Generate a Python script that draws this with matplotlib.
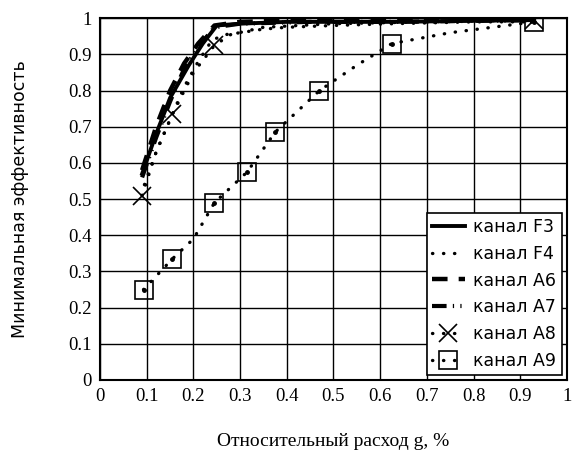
import numpy as np
import matplotlib.pyplot as plt

# channel curves (relative flow g, min efficiency)
f3_x = [0.09, 0.12, 0.15, 0.19, 0.22, 0.25, 0.30, 0.40, 0.50, 0.63, 0.93]
f3_y = [0.57, 0.68, 0.78, 0.87, 0.93, 0.98, 0.985, 0.99, 0.99, 0.99, 0.995]

f4_x = [0.095, 0.12, 0.15, 0.18, 0.21, 0.24, 0.27, 0.30, 0.35, 0.40, 0.50, 0.63, 0.80, 0.93]
f4_y = [0.54, 0.63, 0.72, 0.81, 0.88, 0.94, 0.955, 0.96, 0.97, 0.975, 0.98, 0.985, 0.99, 0.99]

a6_x = [0.09, 0.12, 0.15, 0.18, 0.21, 0.245, 0.30, 0.45, 0.63, 0.93]
a6_y = [0.58, 0.70, 0.80, 0.875, 0.93, 0.98, 0.99, 0.995, 0.995, 0.995]

a7_x = [0.09, 0.12, 0.15, 0.18, 0.21, 0.245, 0.30, 0.45, 0.63, 0.93]
a7_y = [0.56, 0.67, 0.77, 0.86, 0.92, 0.975, 0.985, 0.99, 0.99, 0.995]

a8_x = [0.09, 0.12, 0.155, 0.20, 0.245, 0.28, 0.35, 0.50, 0.70, 0.93]
a8_y = [0.51, 0.63, 0.735, 0.85, 0.925, 0.955, 0.975, 0.985, 0.99, 0.995]
a8_marks = [0, 2, 4, 9]

a9_x = [0.093, 0.155, 0.20, 0.245, 0.315, 0.375, 0.47, 0.55, 0.625, 0.75, 0.93]
a9_y = [0.25, 0.335, 0.39, 0.49, 0.575, 0.685, 0.80, 0.87, 0.93, 0.96, 0.99]
a9_marks = [0, 1, 3, 4, 5, 6, 8, 10]

ticks = np.round(np.arange(0, 1.01, 0.1), 1)
tick_labels = ['0' if t == 0 else ('1' if t == 1 else f'{t:.1f}') for t in ticks]

fig = plt.figure(figsize=(5.72, 4.62), dpi=100)
ax = fig.add_axes([0.175, 0.1775, 0.816, 0.783])

dots = (0, (0.1, 3.2))
ax.plot(f3_x, f3_y, 'k-', lw=2.8, label='канал F3')
ax.plot(f4_x, f4_y, color='k', ls=dots, lw=2.4, dash_capstyle='round', label='канал F4')
ax.plot(a6_x, a6_y, color='k', ls=(0, (3.5, 2.5)), lw=3.2, label='канал A6')
ax.plot(a7_x, a7_y, color='k', ls=(0, (3.5, 1.5, 0.3, 1.5, 0.3, 1.5)), lw=3.0, label='канал A7')
ax.plot(a8_x, a8_y, color='k', ls=dots, lw=2.4, dash_capstyle='round',
        marker='x', ms=13, mew=1.2, markevery=a8_marks, label='канал A8')
ax.plot(a9_x, a9_y, color='k', ls=dots, lw=2.4, dash_capstyle='round',
        marker='s', ms=13, mew=1.2, mfc='none', markevery=a9_marks, label='канал A9')
# center dots inside squares
ax.plot([a9_x[i] for i in a9_marks], [a9_y[i] for i in a9_marks], 'k.', ms=5)

ax.set_xlim(0, 1)
ax.set_ylim(0, 1)
ax.set_xticks(ticks)
ax.set_yticks(ticks)
ax.set_xticklabels(tick_labels, family='Liberation Serif', fontsize=13.5)
ax.set_yticklabels(tick_labels, family='Liberation Serif', fontsize=13.5)
ax.tick_params(length=0, pad=6)
ax.grid(True, color='k', lw=1)
for s in ax.spines.values():
    s.set_linewidth(1.5)

ax.set_xlabel('Относительный расход g, %', family='Liberation Serif', fontsize=14, labelpad=20)
ax.set_ylabel('Минимальная эффективность', family='DejaVu Sans', fontsize=12.5, labelpad=28)

leg = ax.legend(loc='lower right', frameon=True, fancybox=False,
                edgecolor='k', framealpha=1, handlelength=1.9, handletextpad=0.5,
                borderaxespad=0.3, borderpad=0.3, labelspacing=0.5,
                prop={'family': 'DejaVu Sans', 'size': 12.5})
leg.get_frame().set_linewidth(1.2)

fig.savefig('out.png', dpi=100)
